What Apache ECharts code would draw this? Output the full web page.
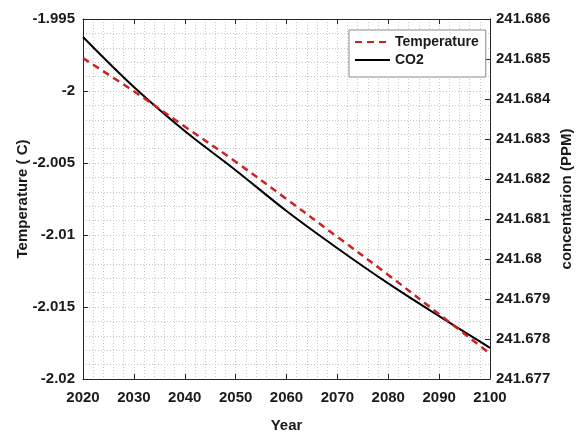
<!DOCTYPE html>
<html>
<head>
<meta charset="utf-8">
<script src="https://cdn.jsdelivr.net/npm/echarts@6/dist/echarts.min.js"></script>
<style>
html,body{margin:0;padding:0;background:#fff;}
#chart{width:582px;height:438px;}
</style>
</head>
<body>
<div id="chart"></div>
<script>
const years = [2020, 2030, 2040, 2050, 2060, 2070, 2080, 2090, 2100];
const temperature = [-1.99772, -2.00002, -2.00247, -2.00491, -2.00750, -2.01013, -2.01277, -2.01550, -2.01824];
const co2 = [241.68555, 241.68430, 241.68320, 241.68222, 241.68120, 241.68027, 241.67939, 241.67857, 241.67778];
const seriesNames = ['Temperature', 'CO2'];
const axisTitles = {x: 'Year', left: 'Temperature ( C)', right: 'concentarion (PPM)'};

const FONT = '"Liberation Sans", Arial, sans-serif';
const TXT = '#1a1a1a';
const AX = '#262626';
const fmt = v => String(parseFloat(Number(v).toFixed(4)));

const chart = echarts.init(document.getElementById('chart'), null, {renderer: 'canvas'});
const gridLine = {show: true, lineStyle: {color: '#c8c8c8', type: [1, 2], width: 1}};
const labelStyle = {color: TXT, fontFamily: FONT, fontWeight: 'bold', fontSize: 15};
const nameStyle = {color: TXT, fontFamily: FONT, fontWeight: 'bold', fontSize: 15};

chart.setOption({
  animation: false,
  backgroundColor: '#ffffff',
  grid: {left: 83, right: 88, top: 19, bottom: 45, containLabel: false},
  legend: {
    orient: 'vertical', left: 349, top: 30,
    selectedMode: false,
    borderColor: '#8a8a8a', borderWidth: 1, borderRadius: 0,
    backgroundColor: '#ffffff',
    padding: [5, 7, 10, 5],
    itemWidth: 35, itemHeight: 14, itemGap: 4,
    itemStyle: {opacity: 0},
    textStyle: {color: TXT, fontFamily: FONT, fontWeight: 'bold', fontSize: 14},
    data: [seriesNames[0], seriesNames[1]]
  },
  xAxis: [{
    type: 'value', min: 2020, max: 2100, interval: 10,
    name: axisTitles.x, nameLocation: 'middle', nameGap: 39, nameMoveOverlap: false, nameTextStyle: nameStyle,
    axisLine: {show: true, lineStyle: {color: AX, width: 1}},
    axisTick: {show: true, inside: true, length: 5, lineStyle: {color: AX}},
    axisLabel: Object.assign({margin: 11, formatter: v => String(v)}, labelStyle),
    splitLine: gridLine,
    minorTick: {show: false, splitNumber: 5},
    minorSplitLine: gridLine
  }, {
    type: 'value', position: 'top', min: 2020, max: 2100, interval: 10,
    axisLine: {show: true, lineStyle: {color: AX, width: 1}},
    axisTick: {show: true, inside: true, length: 5, lineStyle: {color: AX}},
    axisLabel: {show: false}, splitLine: {show: false}
  }],
  yAxis: [{
    type: 'value', min: -2.02, max: -1.995, interval: 0.005,
    name: axisTitles.left, nameLocation: 'middle', nameGap: 53, nameRotate: 90, nameMoveOverlap: false, nameTextStyle: nameStyle,
    axisLine: {show: true, lineStyle: {color: AX, width: 1}},
    axisTick: {show: true, inside: true, length: 5, lineStyle: {color: AX}},
    axisLabel: Object.assign({margin: 8, formatter: fmt}, labelStyle),
    splitLine: gridLine,
    minorTick: {show: false, splitNumber: 5},
    minorSplitLine: gridLine
  }, {
    type: 'value', position: 'right', min: 241.677, max: 241.686, interval: 0.001,
    name: axisTitles.right, nameLocation: 'middle', nameGap: 69, nameRotate: 90, nameMoveOverlap: false, nameTextStyle: nameStyle,
    axisLine: {show: true, lineStyle: {color: AX, width: 1}},
    axisTick: {show: true, inside: true, length: 5, lineStyle: {color: AX}},
    axisLabel: Object.assign({margin: 6, formatter: fmt}, labelStyle),
    splitLine: {show: false}
  }],
  series: [{
    name: seriesNames[1], type: 'line', yAxisIndex: 1, xAxisIndex: 0,
    data: years.map((y, i) => [y, co2[i]]),
    symbol: 'none', smooth: 0.35, z: 3,
    lineStyle: {color: '#000000', width: 2},
    itemStyle: {color: '#000000'}
  }, {
    name: seriesNames[0], type: 'line', yAxisIndex: 0, xAxisIndex: 0,
    data: years.map((y, i) => [y, temperature[i]]),
    symbol: 'none', smooth: 0.35, z: 4,
    lineStyle: {color: '#cc2222', width: 2.5, type: [7, 5]},
    itemStyle: {color: '#cc2222'}
  }]
});
</script>
</body>
</html>
